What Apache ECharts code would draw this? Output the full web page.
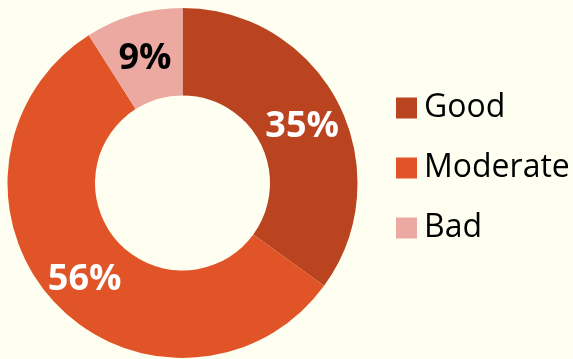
<!DOCTYPE html>
<html>
<head>
<meta charset="utf-8">
<script src="https://cdn.jsdelivr.net/npm/echarts@6/dist/echarts.min.js"></script>
<style>
  html, body { margin: 0; padding: 0; background: #FFFFF1; overflow: hidden; }
  #chart { width: 573px; height: 359px; }
</style>
</head>
<body>
<div id="chart"></div>
<script>
const categories = ['Good', 'Moderate', 'Bad'];
const shares = [35, 56, 9];
const colors = ['#B9441F', '#E05428', '#EBA9A2'];
const labelColors = ['#FFFFFF', '#FFFFFF', '#000000'];

const chart = echarts.init(document.getElementById('chart'), null, { renderer: 'canvas' });

chart.setOption({
  backgroundColor: '#FFFFF1',
  animation: false,
  legend: {
    orient: 'vertical',
    left: 391,
    top: 85,
    itemWidth: 21,
    itemHeight: 21,
    itemGap: 24,
    icon: 'rect',
    data: categories,
    textStyle: {
      fontFamily: 'Open Sans',
      fontSize: 32,
      lineHeight: 34,
      color: '#000000',
      padding: [0, 0, 2, 2]
    }
  },
  series: [{
    type: 'pie',
    center: [182.5, 183],
    radius: [87.5, 175],
    startAngle: 90,
    clockwise: true,
    avoidLabelOverlap: false,
    silent: true,
    itemStyle: { borderWidth: 0 },
    label: {
      show: true,
      position: 'inside',
      formatter: '{c}%',
      fontFamily: 'Open Sans',
      fontWeight: 'bold',
      fontSize: 36,
      offset: [0, 5]
    },
    labelLine: { show: false },
    data: categories.map((name, i) => ({
      name: name,
      value: shares[i],
      itemStyle: { color: colors[i] },
      label: { color: labelColors[i] }
    }))
  }]
});
</script>
</body>
</html>
